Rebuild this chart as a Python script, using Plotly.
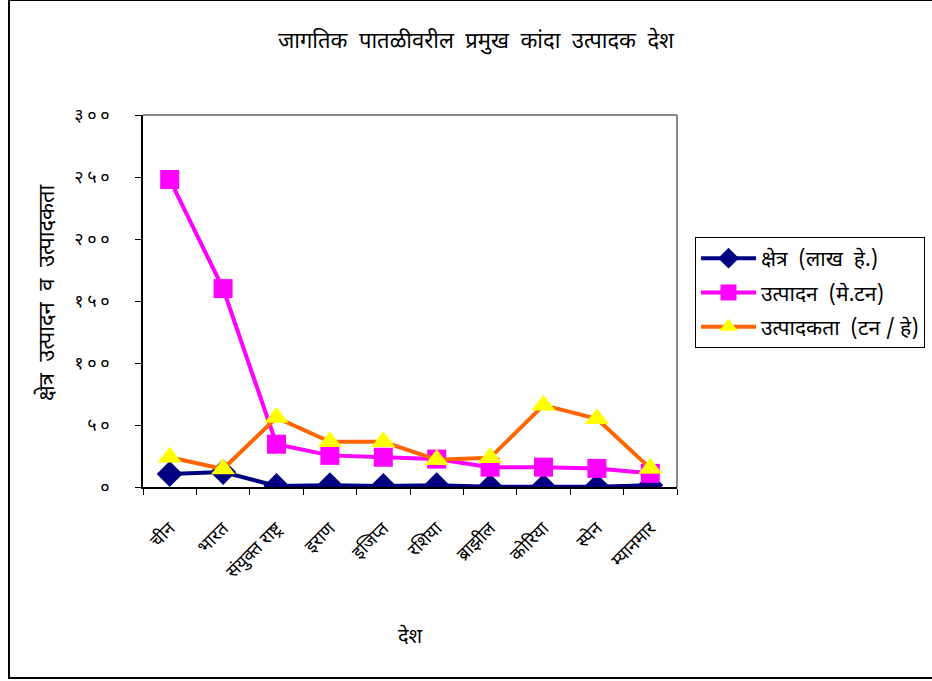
import plotly.graph_objects as go

countries = ["चीन", "भारत", "संयुक्त राष्ट्र", "इराण", "इजिप्त", "रशिया", "ब्राझील", "कोरिया", "स्पेन", "म्यानमार"]
area = [10.5, 12, 0.8, 1.5, 0.8, 1.5, 0.3, 0.3, 0.3, 1.5]
production = [248, 160, 34.5, 25.5, 24, 22.5, 16, 16, 15, 11]
productivity = [24, 14.5, 56, 36.5, 36.5, 22, 23.5, 66, 55, 15]

series_names = ["क्षेत्र  (लाख  हे.)", "उत्पादन  (मे.टन)", "उत्पादकता  (टन / हे)"]
ytick_vals = [0, 50, 100, 150, 200, 250, 300]
ytick_text = ["०", "५\u2009०", "१\u2009०\u2009०", "१\u2009५\u2009०", "२\u2009०\u2009०", "२\u2009५\u2009०", "३\u2009०\u2009०"]

title_text = "जागतिक  पातळीवरील  प्रमुख  कांदा  उत्पादक  देश"
ytitle = "क्षेत्र  उत्पादन  व  उत्पादकता"
xtitle = "देश"

FONT = "Noto Sans Devanagari, Noto Sans, Lohit Devanagari, Mangal, sans-serif"

fig = go.Figure()
fig.add_trace(go.Scatter(x=countries, y=area, name=series_names[0], mode="lines+markers",
                         legendgroup="a",
                         line=dict(color="#000080", width=4),
                         marker=dict(symbol="diamond", size=20, color="#000080")))
fig.add_trace(go.Scatter(x=countries, y=production, name=series_names[1], mode="lines+markers",
                         legendgroup="b",
                         line=dict(color="#FF00FF", width=4),
                         marker=dict(symbol="square", size=19, color="#FF00FF")))
fig.add_trace(go.Scatter(x=countries, y=productivity, name=series_names[2], mode="lines+markers",
                         legendgroup="c",
                         line=dict(color="#FF6600", width=4),
                         marker=dict(symbol="triangle-up", size=21, color="#FFFF00")))

fig.update_layout(
    width=932, height=681,
    margin=dict(l=143, r=255, t=115, b=194, autoexpand=False),
    paper_bgcolor="white", plot_bgcolor="white",
    font=dict(family=FONT, color="black", size=14),
    title=dict(text=title_text, x=476/932, xanchor="center", xref="container",
               y=1 - 40/681, yanchor="middle", yref="container",
               font=dict(size=22, family=FONT, color="black")),
    xaxis=dict(type="category", showgrid=False, zeroline=False,
               showline=True, linecolor="black", linewidth=1.5,
               ticks="outside", tickson="boundaries", ticklen=6, tickcolor="black",
               tickangle=-45, tickfont=dict(size=18, family=FONT),
               ticklabelstandoff=22, automargin=False,
               range=[-0.5, 9.5], mirror=False),
    yaxis=dict(range=[0, 300], tickvals=ytick_vals, ticktext=ytick_text,
               showgrid=False, zeroline=False, showline=True, linecolor="black", linewidth=1.5,
               ticks="outside", ticklen=6, tickcolor="black",
               ticklabelstandoff=22, automargin=False,
               tickfont=dict(size=18, family=FONT)),
    legend=dict(x=(695-143)/534, xanchor="left",
                y=(487-237)/372, yanchor="top",
                bordercolor="black", borderwidth=1, bgcolor="white",
                itemwidth=55,
                font=dict(size=21, family=FONT), tracegroupgap=4),
    showlegend=True,
)

# plot area gray top/right border
fig.add_shape(type="line", xref="paper", yref="paper", x0=0, x1=1, y0=1, y1=1,
              line=dict(color="#888888", width=2))
fig.add_shape(type="line", xref="paper", yref="paper", x0=1, x1=1, y0=0, y1=1,
              line=dict(color="#888888", width=2))
# outer chart border
fig.add_shape(type="rect", xref="paper", yref="paper",
              x0=(9-143)/534, x1=(940-143)/534, y0=(487-678)/372, y1=(487-0)/372,
              line=dict(color="black", width=2), layer="below")

fig.add_annotation(text=ytitle, xref="paper", yref="paper",
                   x=(48-143)/534, y=(487-293)/372, textangle=-90, showarrow=False,
                   xanchor="center", yanchor="middle", font=dict(size=22, family=FONT))
fig.add_annotation(text=xtitle, xref="paper", yref="paper",
                   x=(410-143)/534, y=(487-637)/372, showarrow=False,
                   xanchor="center", yanchor="middle", font=dict(size=20, family=FONT))

fig.write_html("out.html", config={"displayModeBar": False},
               post_script="document.body.style.margin='0';document.body.style.overflow='hidden';")
